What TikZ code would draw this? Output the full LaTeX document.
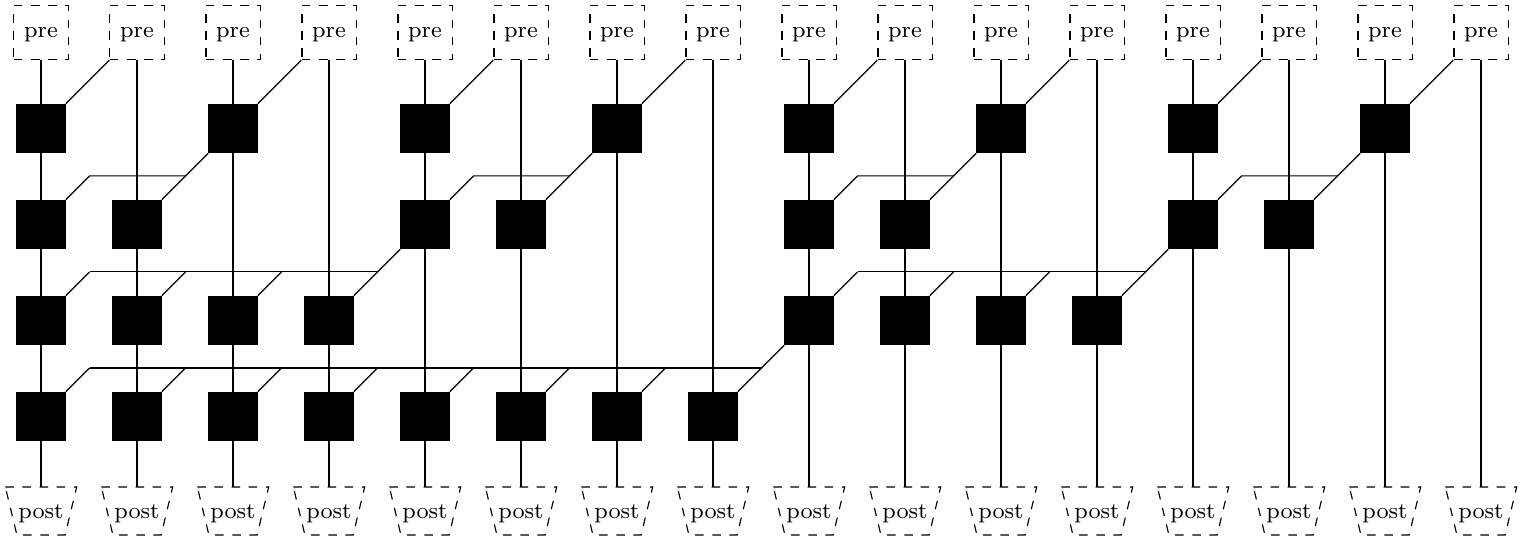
\documentclass[tikz,border=0pt]{standalone}
\usetikzlibrary{calc,backgrounds}
\begin{document}
\begin{tikzpicture}[x=0.3509pt,y=-0.3509pt,
  every node/.style={font=\fontsize{8}{9.6}\selectfont},
  prebox/.style={draw,dashed,minimum size=19pt,inner sep=0pt,text depth=0pt},
  blk/.style={draw,fill=black,minimum size=17pt,inner sep=0pt},
  postlbl/.style={minimum width=24.6pt,minimum height=16.4pt,inner sep=0pt,text depth=0pt},
  trapline/.style={dashed},
  wire/.style={}]
\useasboundingbox (0,0) rectangle (1523,542);
% pre and post nodes
\foreach \c in {0,...,15}{
  \pgfmathtruncatemacro\x{41+96*\c}
  \node[prebox] (pre\c) at (\x,32.5) {pre};
  \node[postlbl] (post\c) at (\x,511) {post};
  \draw[trapline] (post\c.north west) -- (post\c.north east)
     -- ($(post\c.south east)+(-11.5,0)$) -- ($(post\c.south west)+(11.5,0)$) -- cycle;
}
% black boxes
\foreach \c in {0,2,...,14}{\node[blk] (r1c\c) at ({41+96*\c},128.5) {};}
\foreach \c in {0,1,4,5,8,9,12,13}{\node[blk] (r2c\c) at ({41+96*\c},224.5) {};}
\foreach \c in {0,1,2,3,8,9,10,11}{\node[blk] (r3c\c) at ({41+96*\c},320.5) {};}
\foreach \c in {0,...,7}{\node[blk] (r4c\c) at ({41+96*\c},416.5) {};}
\begin{scope}[on background layer]
  \foreach \c in {0,...,15}{\draw[wire] (pre\c.south) -- (post\c.north);}
  \foreach \c in {0,2,...,14}{
    \pgfmathtruncatemacro\d{\c+1}
    \draw[wire] (pre\d.south west) -- (r1c\c.north east);
  }
  \foreach \s in {2,6,10,14}{
    \pgfmathtruncatemacro\t{\s-1}
    \pgfmathtruncatemacro\u{\s-2}
    \draw[wire] (r1c\s.south west) -- (r2c\t.north east);
    \draw[wire] ($(r2c\t.north east)+(23.78,-23.78)$) -- ($(r2c\u.north east)+(23.78,-23.78)$) -- (r2c\u.north east);
  }
  \foreach \s in {4,12}{
    \pgfmathtruncatemacro\t{\s-1}
    \pgfmathtruncatemacro\u{\s-4}
    \draw[wire] (r2c\s.south west) -- (r3c\t.north east);
    \draw[wire] ($(r3c\t.north east)+(23.78,-23.78)$) -- ($(r3c\u.north east)+(23.78,-23.78)$);
    \foreach \k in {2,3,4}{
      \pgfmathtruncatemacro\v{\s-\k}
      \draw[wire] ($(r3c\v.north east)+(23.78,-23.78)$) -- (r3c\v.north east);
    }
  }
  \draw[wire] (r3c8.south west) -- (r4c7.north east);
  \draw[wire] ($(r4c7.north east)+(23.78,-23.78)$) -- ($(r4c0.north east)+(23.78,-23.78)$);
  \foreach \v in {0,...,6}{
    \draw[wire] ($(r4c\v.north east)+(23.78,-23.78)$) -- (r4c\v.north east);
  }
\end{scope}
\end{tikzpicture}
\end{document}
